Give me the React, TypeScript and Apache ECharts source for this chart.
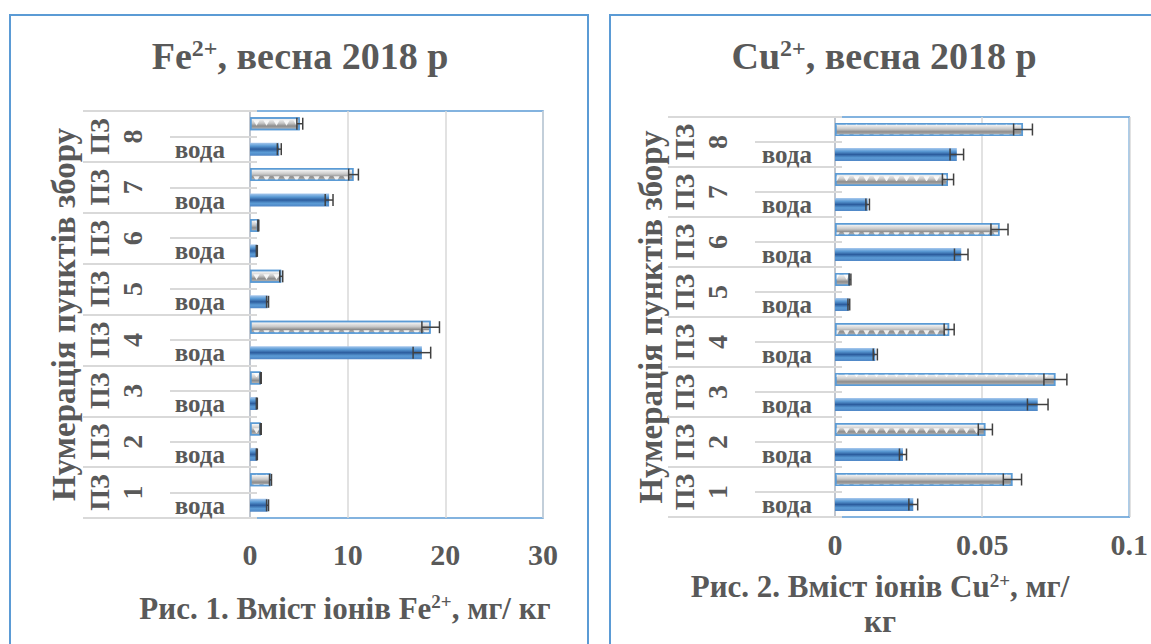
import React, { useEffect, useRef } from 'react';
import * as echarts from 'echarts';

// ---- data ----
const points = ['1', '2', '3', '4', '5', '6', '7', '8'];
const waterLabel = 'вода';
const groupPrefix = 'ПЗ';
const yAxisName = 'Нумерація пунктів збору';

const feWater = [1.8, 0.7, 0.7, 17.6, 1.8, 0.7, 8.1, 3.0];
const feWaterErr = [0.1, 0.05, 0.05, 0.9, 0.1, 0.05, 0.4, 0.2];
const feSoil = [2.1, 1.1, 1.1, 18.5, 3.2, 0.85, 10.6, 5.1];
const feSoilErr = [0.1, 0.05, 0.05, 0.9, 0.15, 0.05, 0.5, 0.3];

const cuWater = [0.0266, 0.0231, 0.0689, 0.0137, 0.0047, 0.0429, 0.0111, 0.0414];
const cuWaterErr = [0.0015, 0.0012, 0.0035, 0.0007, 0.0003, 0.0023, 0.0006, 0.0023];
const cuSoil = [0.0603, 0.0511, 0.0749, 0.0388, 0.0051, 0.0559, 0.0384, 0.0639];
const cuSoilErr = [0.0031, 0.0024, 0.0039, 0.0017, 0.0003, 0.0029, 0.0019, 0.0032];

const feAxis = { min: 0, max: 30, interval: 10 };
const cuAxis = { min: 0, max: 0.1, interval: 0.05 };

// ---- style ----
const FONT = '"Liberation Serif", "Times New Roman", serif';
const TXT = '#595959';
const BLUE = '#5b9bd5';
const GRIDC = '#d9d9d9';

const rowKeys = points.flatMap((p) => [p + '|w', p + '|s']);
const groupKeys = points.map((p) => groupPrefix + '\n' + p);

const waterStyle = {
  color: new echarts.graphic.LinearGradient(0, 0, 0, 1, [
    { offset: 0, color: '#a9c9ee' },
    { offset: 0.25, color: '#5b9bd5' },
    { offset: 0.5, color: '#2c5d9e' },
    { offset: 0.75, color: '#5b9bd5' },
    { offset: 1, color: '#4f86c6' },
  ]),
};
const soilStyle = {
  color: new echarts.graphic.LinearGradient(0, 0, 0, 1, [
    { offset: 0, color: '#ffffff' },
    { offset: 0.45, color: '#c8c8c8' },
    { offset: 0.7, color: '#8c8c8c' },
    { offset: 1, color: '#bdbdbd' },
  ]),
  borderColor: BLUE,
  borderWidth: 1.5,
  decal: {
    symbol: 'triangle',
    symbolSize: 0.9,
    color: 'rgba(255,255,255,0.85)',
    dashArrayX: [7, 3],
    dashArrayY: [6, 8],
    rotation: Math.PI,
  },
};

const errRender = (params: any, api: any) => {
  const v = api.value(0);
  const c = api.value(1);
  const e = api.value(2);
  const a = api.coord([v - e, c]);
  const b = api.coord([v + e, c]);
  const h = 6;
  const st = { stroke: '#404040', lineWidth: 1.5 };
  return {
    type: 'group',
    children: [
      { type: 'line', shape: { x1: a[0], y1: a[1], x2: b[0], y2: b[1] }, style: st },
      { type: 'line', shape: { x1: a[0], y1: a[1] - h, x2: a[0], y2: a[1] + h }, style: st },
      { type: 'line', shape: { x1: b[0], y1: b[1] - h, x2: b[0], y2: b[1] + h }, style: st },
    ],
  };
};

function makeAxes(gi: number, innerMargin: number, innerTick: number, outerTick: number, outerMargin: number, nameGap: number) {
  const inner = {
    type: 'category',
    gridIndex: gi,
    position: 'left',
    data: rowKeys,
    axisLine: { show: true, onZero: false, lineStyle: { color: '#c0c6cf', width: 2 } },
    axisTick: { show: true, interval: 0, length: innerTick, lineStyle: { color: GRIDC, width: 2 } },
    axisLabel: {
      interval: 0,
      margin: innerMargin,
      formatter: (v: string) => (v.endsWith('|w') ? waterLabel : ''),
      fontFamily: FONT,
      fontWeight: 'bold',
      fontSize: 25,
      color: TXT,
    },
    splitLine: { show: false },
  };
  const overhang = {
    type: 'category',
    gridIndex: gi,
    position: 'left',
    data: rowKeys,
    axisLine: { show: false, onZero: false },
    axisTick: { show: true, inside: true, interval: 0, length: 7, lineStyle: { color: GRIDC, width: 2 } },
    axisLabel: { show: false },
    splitLine: { show: false },
  };
  const outer = {
    type: 'category',
    gridIndex: gi,
    position: 'left',
    offset: innerTick,
    data: groupKeys,
    axisLine: { show: false, onZero: false },
    axisTick: { show: true, interval: 0, length: outerTick, lineStyle: { color: GRIDC, width: 2 } },
    axisLabel: {
      interval: 0,
      rotate: 90,
      margin: outerMargin,
      lineHeight: 33,
      fontFamily: FONT,
      fontWeight: 'bold',
      fontSize: 28,
      color: TXT,
    },
    name: yAxisName,
    nameLocation: 'middle',
    nameRotate: 90,
    nameGap: nameGap,
    nameTextStyle: { fontFamily: FONT, fontWeight: 'bold', fontSize: 33, color: TXT },
    splitLine: { show: false },
  };
  return [inner, overhang, outer];
}

function makeXAxis(gi: number, ax: any, margin: number) {
  return {
    type: 'value',
    gridIndex: gi,
    min: ax.min,
    max: ax.max,
    interval: ax.interval,
    axisLine: { show: false },
    axisTick: { show: false },
    splitLine: { show: true, lineStyle: { color: GRIDC, width: 1.5 } },
    axisLabel: { margin, fontFamily: FONT, fontWeight: 'bold', fontSize: 30, color: TXT },
  };
}

function makeSeries(xi: number, yi: number, water: number[], soil: number[], wErr: number[], sErr: number[]) {
  const wData = water.flatMap((v) => [v, '-']);
  const sData = soil.flatMap((v) => ['-', v]);
  const eData: any[] = [];
  water.forEach((v, i) => {
    eData.push([v, 2 * i, wErr[i]]);
    eData.push([soil[i], 2 * i + 1, sErr[i]]);
  });
  return [
    { type: 'bar', xAxisIndex: xi, yAxisIndex: yi, data: wData, barWidth: 13, barGap: '-100%', itemStyle: waterStyle },
    { type: 'bar', xAxisIndex: xi, yAxisIndex: yi, data: sData, barWidth: 13, barGap: '-100%', itemStyle: soilStyle },
    { type: 'custom', xAxisIndex: xi, yAxisIndex: yi, data: eData, renderItem: errRender, z: 5 },
  ];
}

const richBase = (fs: number, lh: number) => ({
  b: { fontFamily: FONT, fontWeight: 'bold', fontSize: fs, lineHeight: lh, color: TXT },
  s: { fontFamily: FONT, fontWeight: 'bold', fontSize: Math.round(fs * 0.62), lineHeight: lh, verticalAlign: 'top', color: TXT, padding: [2, 0, 0, 0] },
});

export default function App() {
  const ref = useRef<HTMLDivElement>(null);
  useEffect(() => {
    if (!ref.current) return;
    const chart = echarts.init(ref.current, null, { renderer: 'svg' });
    const option: any = {
      animation: false,
      backgroundColor: '#ffffff',
      title: [
        {
          text: '{b|Fe}{s|2+}{b|, весна 2018 р}',
          left: 300, top: 34, textAlign: 'center', padding: 0,
          textStyle: { rich: richBase(38, 44) },
        },
        {
          text: '{b|Cu}{s|2+}{b|, весна 2018 р}',
          left: 884, top: 34, textAlign: 'center', padding: 0,
          textStyle: { rich: richBase(38, 44) },
        },
        {
          text: '{b|Рис. 1. Вміст іонів Fe}{s|2+}{b|, мг/ кг}',
          left: 345, top: 590, textAlign: 'center', padding: 0,
          textStyle: { rich: richBase(31, 36) },
        },
        {
          text: '{b|Рис. 2. Вміст іонів Cu}{s|2+}{b|, мг/}\n{b|кг}',
          left: 880, top: 569, textAlign: 'center', padding: 0,
          textStyle: { rich: richBase(31, 35) },
        },
      ],
      graphic: [
        { type: 'rect', shape: { x: 10, y: 15, width: 578, height: 660 }, style: { fill: 'none', stroke: BLUE, lineWidth: 2 }, silent: true },
        { type: 'rect', shape: { x: 610, y: 15, width: 600, height: 660 }, style: { fill: 'none', stroke: BLUE, lineWidth: 2 }, silent: true },
      ],
      grid: [
        { left: 250, top: 111, width: 293, height: 407, show: true, borderColor: BLUE, borderWidth: 1.5, backgroundColor: 'transparent' },
        { left: 835, top: 117, width: 295, height: 400, show: true, borderColor: BLUE, borderWidth: 1.5, backgroundColor: 'transparent' },
      ],
      xAxis: [makeXAxis(0, feAxis, 21), makeXAxis(1, cuAxis, 12)],
      yAxis: [...makeAxes(0, 25, 80, 87, 21, 90), ...makeAxes(1, 23, 80, 87, 21, 88)],
      series: [
        ...makeSeries(0, 0, feWater, feSoil, feWaterErr, feSoilErr),
        ...makeSeries(1, 3, cuWater, cuSoil, cuWaterErr, cuSoilErr),
      ],
    };
    chart.setOption(option);
    return () => chart.dispose();
  }, []);
  return <div ref={ref} style={{ position: 'absolute', left: 0, top: 0, width: 1151, height: 644 }} />;
}
